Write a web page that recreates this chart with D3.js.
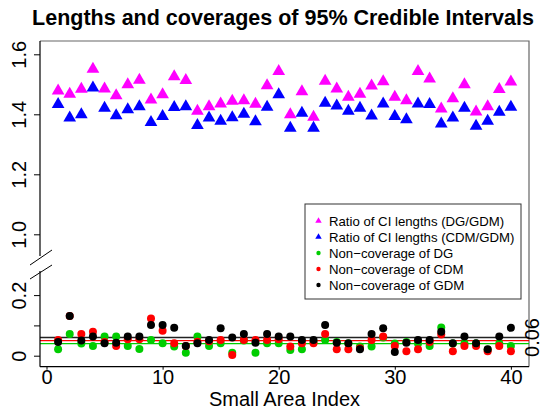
<!DOCTYPE html>
<html>
<head>
<meta charset="utf-8">
<script src="https://cdn.jsdelivr.net/npm/d3@7"></script>
<style>
  html, body { margin: 0; padding: 0; background: #fff; }
  svg { display: block; font-family: "Liberation Sans", Arial, Helvetica, sans-serif; }
</style>
</head>
<body>
<svg id="chart" width="543" height="411"></svg>
<script>
// Small area index 1..40
const areaIndex = d3.range(1, 41);

// Ratio of credible-interval lengths
const ratioDG = [1.478,1.467,1.484,1.551,1.485,1.462,1.499,1.514,1.448,1.466,
                 1.526,1.513,1.411,1.426,1.435,1.444,1.446,1.434,1.496,1.543,
                 1.399,1.476,1.391,1.511,1.485,1.457,1.467,1.495,1.509,1.457,
                 1.446,1.543,1.518,1.418,1.452,1.499,1.408,1.426,1.483,1.508];
const ratioCDM = [1.433,1.388,1.399,1.488,1.421,1.396,1.416,1.426,1.373,1.393,
                  1.423,1.426,1.363,1.388,1.377,1.389,1.401,1.376,1.424,1.466,
                  1.354,1.404,1.354,1.437,1.428,1.411,1.421,1.395,1.435,1.393,
                  1.382,1.435,1.433,1.368,1.388,1.421,1.361,1.377,1.407,1.424];

// Non-coverage rates of the 95% credible intervals
const noncovDG = [0.021,0.072,0.040,0.032,0.063,0.063,0.032,0.022,0.052,0.041,
                  0.030,0.010,0.063,0.032,0.041,0.010,0.050,0.010,0.041,0.041,
                  0.019,0.021,0.045,0.052,0.045,0.040,0.030,0.030,0.060,0.040,
                  0.045,0.040,0.032,0.093,0.040,0.040,0.040,0.020,0.040,0.032];
const noncovCDM = [0.052,0.131,0.072,0.079,0.045,0.032,0.054,0.054,0.123,0.082,
                   0.041,0.032,0.046,0.048,0.052,0.002,0.052,0.052,0.052,0.054,
                   0.030,0.041,0.041,0.072,0.021,0.021,0.025,0.052,0.063,0.032,
                   0.015,0.021,0.045,0.070,0.015,0.032,0.032,0.015,0.032,0.015];
const noncovGDM = [0.045,0.131,0.050,0.063,0.041,0.043,0.063,0.063,0.101,0.101,
                   0.092,0.032,0.041,0.052,0.091,0.060,0.072,0.043,0.072,0.063,
                   0.063,0.052,0.052,0.101,0.043,0.041,0.021,0.072,0.091,0.012,
                   0.043,0.052,0.052,0.079,0.041,0.063,0.041,0.021,0.063,0.092];

// Reference levels (average non-coverage)
const refLevels = [
  { value: 0.06, color: "#222" },
  { value: 0.05, color: "#ff0000" },
  { value: 0.04, color: "#00cd00" }
];

// Axis ticks
const xTicks = [0, 10, 20, 30, 40];
const upperTicks = [1.0, 1.2, 1.4, 1.6];
const upperLabels = ["1.0", "1.2", "1.4", "1.6"];
const lowerTicks = [0, 0.1, 0.2];
const lowerLabels = ["0", "", "0.2"];
const rightTicks = [0.06];
const rightLabels = ["0.06"];

const titleText = "Lengths and coverages of 95% Credible Intervals";
const xLabel = "Small Area Index";
const legendLabels = [
  "Ratio of CI lengths (DG/GDM)",
  "Ratio of CI lengths (CDM/GDM)",
  "Non\u2212coverage of DG",
  "Non\u2212coverage of CDM",
  "Non\u2212coverage of GDM"
];

const MAGENTA = "#ff00ff", BLUE = "#0000ff", GREEN = "#00cd00", RED = "#ff0000", BLACK = "#000000";

const svg = d3.select("#chart");
const L = 40, R = 529, T = 41, B = 366.7;

const x = d3.scaleLinear().domain([-0.56, 41.56]).range([L, R]);
const yUp = d3.scaleLinear().domain([1.0, 1.6]).range([234.3, 54.3]);
const yLo = d3.scaleLinear().domain([0, 0.2]).range([355.7, 295.1]);

// Title
svg.append("text")
  .attr("x", 283).attr("y", 25)
  .attr("text-anchor", "middle")
  .attr("font-weight", "bold")
  .attr("font-size", 21.5)
  .text(titleText);

// Plot frame (top and right)
svg.append("path")
  .attr("d", `M${L},${T}H${R}V${B}`)
  .attr("fill", "none").attr("stroke", "#666").attr("stroke-width", 1.2);

// Reference lines
svg.selectAll("line.ref").data(refLevels).join("line")
  .attr("class", "ref")
  .attr("x1", L).attr("x2", R)
  .attr("y1", d => yLo(d.value)).attr("y2", d => yLo(d.value))
  .attr("stroke", d => d.color).attr("stroke-width", 1.3);

// Upper panel triangles
const tri = d3.symbol().type(d3.symbolTriangle).size(70);
function triangles(vals, color) {
  svg.append("g").selectAll("path").data(vals).join("path")
    .attr("d", tri)
    .attr("transform", (d, i) => `translate(${x(areaIndex[i])},${yUp(d)})`)
    .attr("fill", color);
}
triangles(ratioDG, MAGENTA);
triangles(ratioCDM, BLUE);

// Lower panel dots
function dots(vals, color) {
  svg.append("g").selectAll("circle").data(vals).join("circle")
    .attr("cx", (d, i) => x(areaIndex[i]))
    .attr("cy", d => yLo(d))
    .attr("r", 4)
    .attr("fill", color);
}
dots(noncovDG, GREEN);
dots(noncovCDM, RED);
dots(noncovGDM, BLACK);

// X axis
const xAxis = d3.axisBottom(x).tickValues(xTicks).tickSize(3).tickPadding(0).tickFormat(d3.format("d"));
const gx = svg.append("g").attr("transform", `translate(0,${B})`).call(xAxis);
gx.select(".domain").attr("d", `M${L},0H${R}`).attr("stroke", "#000").attr("stroke-width", 1.2);
gx.selectAll("text").attr("font-size", 20).attr("fill", "#000").attr("font-family", "Liberation Sans, Arial, sans-serif");

svg.append("text")
  .attr("x", (L + R) / 2).attr("y", 406)
  .attr("text-anchor", "middle").attr("font-size", 20)
  .text(xLabel);

// Left axis, upper part
const gUp = svg.append("g").attr("transform", `translate(${L},0)`)
  .call(d3.axisLeft(yUp).tickValues(upperTicks).tickSize(6).tickFormat((d, i) => upperLabels[i]));
gUp.select(".domain").attr("d", `M0,${T}V256`).attr("stroke-width", 1.2);

// Left axis, lower part
const gLo = svg.append("g").attr("transform", `translate(${L},0)`)
  .call(d3.axisLeft(yLo).tickValues(lowerTicks).tickSize(6).tickFormat((d, i) => lowerLabels[i]));
gLo.select(".domain").attr("d", `M0,271V${B}`).attr("stroke-width", 1.2);

[gUp, gLo].forEach(g => {
  g.selectAll(".tick text")
    .attr("font-size", 20).attr("fill", "#000")
    .attr("font-family", "Liberation Sans, Arial, sans-serif")
    .attr("text-anchor", "middle")
    .attr("x", null).attr("dy", null)
    .attr("transform", "translate(-14,0) rotate(-90)")
    .attr("y", 0);
});

// Axis break slashes
svg.append("line").attr("x1", 30).attr("y1", 265).attr("x2", 52).attr("y2", 250).attr("stroke", "#000");
svg.append("line").attr("x1", 30).attr("y1", 279).attr("x2", 52).attr("y2", 265).attr("stroke", "#000");

// Right side label
svg.append("g").selectAll("text").data(rightTicks).join("text")
  .attr("transform", d => `translate(539,${yLo(d)}) rotate(-90)`)
  .attr("text-anchor", "middle")
  .attr("font-size", 20)
  .text((d, i) => rightLabels[i]);

// Legend
const lg = svg.append("g");
lg.append("rect").attr("x", 305).attr("y", 204).attr("width", 216).attr("height", 95)
  .attr("fill", "#fff").attr("stroke", "#333");
const legendItems = [
  { shape: "tri", color: MAGENTA },
  { shape: "tri", color: BLUE },
  { shape: "dot", color: GREEN },
  { shape: "dot", color: RED },
  { shape: "dot", color: BLACK }
];
const smallTri = d3.symbol().type(d3.symbolTriangle).size(18);
legendItems.forEach((it, i) => {
  const cy = 221 + i * 16;
  if (it.shape === "tri") {
    lg.append("path").attr("d", smallTri).attr("transform", `translate(318.5,${cy})`).attr("fill", it.color);
  } else {
    lg.append("circle").attr("cx", 318.5).attr("cy", cy).attr("r", 2.2).attr("fill", it.color);
  }
  lg.append("text").attr("x", 329).attr("y", cy + 5).attr("font-size", 13.2).text(legendLabels[i]);
});
</script>
</body>
</html>
